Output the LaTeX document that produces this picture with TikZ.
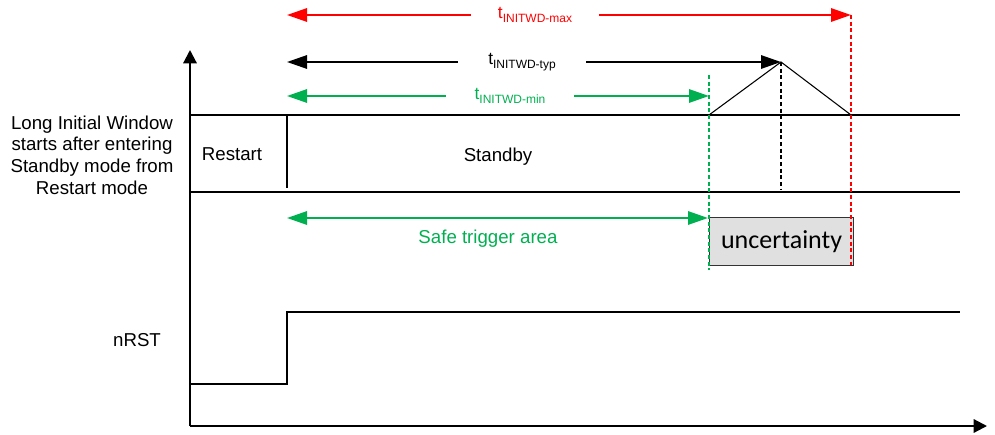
\documentclass[tikz,border=0pt]{standalone}
\usepackage{fontspec}
\setmainfont{Liberation Sans}
\newfontfamily\calibri{Carlito}
\usetikzlibrary{
    arrows.meta,
    positioning
}
\definecolor{SigRed}{RGB}{255,0,0}
\definecolor{SigGreen}{RGB}{0,176,80}
\definecolor{BoxGray}{RGB}{224,224,224}
\newcommand{\tlabel}[1]{t\raisebox{-0.45ex}{\fontsize{9}{9}\selectfont #1}}
\tikzset{
  lbl/.style  = {font=\fontsize{14}{16.3}\selectfont, align=center},
  sig/.style  = {line width=1.6pt, black},
  tip/.style  = {-{Triangle[length=15pt,width=10pt]}},
  dtip/.style = {{Triangle[length=15pt,width=10pt]}-{Triangle[length=15pt,width=10pt]}}
}

\begin{document}
\begin{tikzpicture}[
    x=0.75pt, y=-0.75pt,
    axis/.style  = {sig, -{Triangle[length=10pt,width=10pt]}},
    arr/.style   = {tip, line width=1.5pt},
    tlbl/.style  = {font=\fontsize{13}{16}\selectfont, minimum width=96pt, inner sep=0pt},
    vmark/.style = {line width=1.6pt, dash pattern=on 3pt off 2pt},
    ubox/.style  = {draw=black!80, line width=0.9pt, fill=BoxGray,
                    minimum width=108pt, minimum height=36pt, inner sep=2pt,
                    font=\calibri\fontsize{19.5}{24}\selectfont}
  ]
  \useasboundingbox (0,0) rectangle (995,435);

  % axes
  \coordinate (org)  at (190,426);
  \coordinate (ytop) at (190,50);
  \coordinate (xend) at (987,426);
  \draw[axis] (org) -- (ytop);
  \draw[axis] (org) -- (xend);

  % state lines
  \coordinate (topL) at (190,115);
  \coordinate (topR) at (960,115);
  \coordinate (botL) at (190,192);
  \coordinate (botR) at (960,192);
  \draw[sig] (topL) -- (topR);
  \draw[sig] (botL) -- (botR);
  \draw[sig] (287,115) -- (287,188);

  % nRST
  \coordinate (rst0) at (190,384);
  \coordinate (rst1) at (287,384);
  \coordinate (rst2) at (287,312);
  \coordinate (rst3) at (960,312);
  \draw[sig] (rst0) -- (rst1) -- (rst2) -- (rst3);

  % time marks
  \coordinate (minA) at (709,75);
  \coordinate (minB) at (709,270);
  \coordinate (typA) at (781,62);
  \coordinate (typB) at (781,190);
  \coordinate (maxA) at (851,15);
  \coordinate (maxB) at (851,265);
  \coordinate (minT) at (709,115);
  \coordinate (maxT) at (851,115);
  \draw[line width=0.8pt] (minT) -- (typA) -- (maxT);
  \draw[vmark, black]    (typA) -- (typB);

  % timing arrows
  \node[tlbl, text=SigRed]   (tmax) at (535,15) {\tlabel{INITWD-max}};
  \node[tlbl]                (ttyp) at (522,62) {\tlabel{INITWD-typ}};
  \node[tlbl, text=SigGreen] (tmin) at (510,96) {\tlabel{INITWD-min}};
  \draw[arr, SigRed]   (tmax) -- (287,15);
  \draw[arr, SigRed]   (tmax) -- (maxA);
  \draw[arr]           (ttyp) -- (287,62);
  \draw[arr]           (ttyp) -- (typA);
  \draw[arr, SigGreen] (tmin) -- (287,96);
  \draw[arr, SigGreen] (tmin) -- (709,96);

  % safe area
  \coordinate (safeL) at (287,218);
  \coordinate (safeR) at (708,218);
  \draw[dtip, line width=1.5pt, SigGreen] (safeL) -- (safeR);
  \node[lbl, text=SigGreen] (safe) at (488,239) {Safe trigger area};

  \node[ubox, anchor=north west] (unc) at (709,217) {uncertainty};

  \draw[vmark, SigGreen] (minA) -- (minB);
  \draw[vmark, SigRed]   (maxA) -- (maxB);

  % labels
  \node[lbl] (win)     at (92,155)  {Long Initial Window\\starts after entering\\Standby mode from\\Restart mode};
  \node[lbl] (restart) at (232,154) {Restart};
  \node[lbl] (standby) at (498,157) {Standby};
  \node[lbl] (nrst)    at (137,340) {nRST};

\end{tikzpicture}
\end{document}
